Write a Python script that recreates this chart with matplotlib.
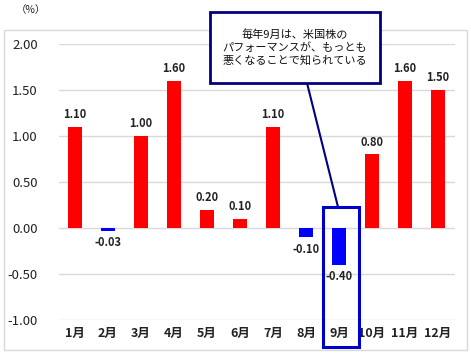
import matplotlib.pyplot as plt
from matplotlib.patches import Rectangle
from matplotlib.lines import Line2D

plt.rcParams['font.family'] = ['Noto Sans CJK JP', 'DejaVu Sans']

months = ['1月', '2月', '3月', '4月', '5月', '6月', '7月', '8月', '9月', '10月', '11月', '12月']
values = [1.10, -0.03, 1.00, 1.60, 0.20, 0.10, 1.10, -0.10, -0.40, 0.80, 1.60, 1.50]
yticks = [2.0, 1.5, 1.0, 0.5, 0.0, -0.5, -1.0]
note = '毎年9月は、米国株の\nパフォーマンスが、もっとも\n悪くなることで知られている'

W, H = 471, 354
fig = plt.figure(figsize=(W / 100, H / 100), dpi=100)

def px(x, y):
    # pixel position -> figure fraction
    return x / W, 1 - y / H

ax = fig.add_axes([58.5 / W, 1 - 320 / H, 396 / W, 276 / H])

colors = ['#FF0000' if v >= 0 else '#0000FF' for v in values]
x = range(len(months))
ax.bar(x, values, width=0.42, color=colors, zorder=3)

for i, v in enumerate(values):
    off = 0.06 if v >= 0 else -0.06
    ax.text(i, v + off, f'{v:.2f}', ha='center', va='bottom' if v >= 0 else 'top',
            fontsize=8, fontweight='bold', color='#222222')

ax.set_xlim(-0.5, 11.5)
ax.set_ylim(-1.0, 2.0)
ax.set_yticks(yticks)
ax.set_yticklabels([f'{t:.2f}' for t in yticks], fontsize=9.5, color='#222222')
ax.set_xticks(list(x))
ax.set_xticklabels(months, fontsize=9, fontweight='bold', color='#222222')
ax.tick_params(length=0, pad=5)
ax.tick_params(axis='y', pad=15)
ax.grid(axis='y', color='#D9D9D9', linewidth=1, zorder=0)
for s in ax.spines.values():
    s.set_visible(False)

# outer chart frame
x0, y0 = px(4, 350)
x1, y1 = px(467, 30)
fig.patches.append(Rectangle((x0, y0), x1 - x0, y1 - y0, transform=fig.transFigure,
                             fill=False, edgecolor='#D9D9D9', linewidth=1))

fig.text(*px(16, 10), '（%）', fontsize=7.5, va='center', ha='left', color='#222222')

# highlight box around September
x0, y0 = px(323, 347)
x1, y1 = px(359, 207)
fig.patches.append(Rectangle((x0, y0), x1 - x0, y1 - y0, transform=fig.transFigure,
                             fill=False, edgecolor='#0000CC', linewidth=2.2, zorder=5))

# callout
lx0, ly0 = px(307, 83)
lx1, ly1 = px(338, 207)
fig.lines.append(Line2D([lx0, lx1], [ly0, ly1], transform=fig.transFigure,
                        color='#000080', linewidth=1.5))
x0, y0 = px(210, 83)
x1, y1 = px(380, 12)
fig.patches.append(Rectangle((x0, y0), x1 - x0, y1 - y0, transform=fig.transFigure,
                             facecolor='white', edgecolor='#000080', linewidth=2, zorder=5))
fig.text((x0 + x1) / 2, (y0 + y1) / 2, note, ha='center', va='center', fontsize=8,
         linespacing=1.3, color='#111111', zorder=6)

fig.savefig('out.png', dpi=100)
